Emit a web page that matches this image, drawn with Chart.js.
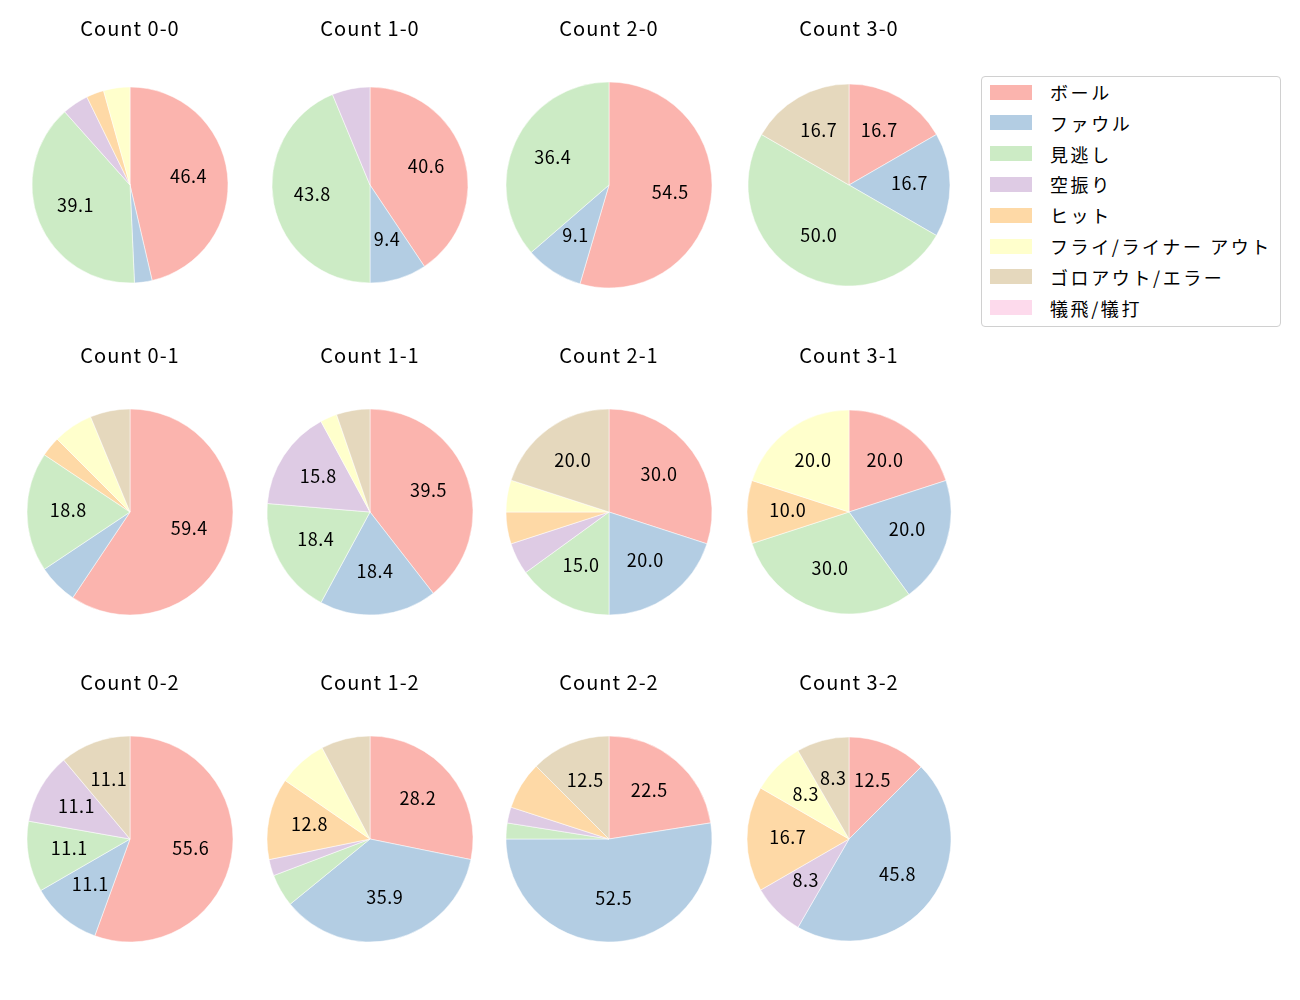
<!DOCTYPE html>
<html lang="ja">
<head>
  <meta charset="UTF-8">
  <title>Count別 投球結果</title>
  <script src="https://cdn.jsdelivr.net/npm/chart.js"></script>
  <style>
    body {
      margin: 0;
      background: #fff;
      width: 1300px;
      height: 1000px;
      position: relative;
      overflow: hidden;
      font-family: "Noto Sans CJK JP", "Noto Sans", sans-serif;
    }
    .pie {
      position: absolute;
      width: 240px;
      height: 310px;
    }
    #legend {
      position: absolute;
      left: 981px;
      top: 76px;
      width: 300px;
      height: 251px;
      border: 1px solid #d0d0d0;
      border-radius: 4px;
      box-sizing: border-box;
    }
    .row {
      position: absolute;
      left: 8px;
      height: 20px;
      display: flex;
      align-items: center;
      font-size: 18px;
      letter-spacing: 2.6px;
      color: #000;
      white-space: nowrap;
    }
    .sw {
      width: 42px;
      height: 15px;
      margin-right: 18px;
    }
  </style>
</head>
<body>
  <div id="legend"></div>
  <script>
    // 凡例の項目
    const categories = ['ボール', 'ファウル', '見逃し', '空振り', 'ヒット', 'フライ/ライナー アウト', 'ゴロアウト/エラー', '犠飛/犠打'];
    const colors = ['#fbb4ae', '#b3cde3', '#ccebc5', '#decbe4', '#fed9a6', '#ffffcc', '#e5d8bd', '#fddaec'];

    // カウントごとの投球数（カテゴリ順）
    const counts = ['0-0', '1-0', '2-0', '3-0', '0-1', '1-1', '2-1', '3-1', '0-2', '1-2', '2-2', '3-2'];
    const c00 = [32, 2, 27, 3, 2, 3, 0, 0];
    const c10 = [13, 3, 14, 2, 0, 0, 0, 0];
    const c20 = [6, 1, 4, 0, 0, 0, 0, 0];
    const c30 = [1, 1, 3, 0, 0, 0, 1, 0];
    const c01 = [19, 2, 6, 0, 1, 2, 2, 0];
    const c11 = [15, 7, 7, 6, 0, 1, 2, 0];
    const c21 = [6, 4, 3, 1, 1, 1, 4, 0];
    const c31 = [2, 2, 3, 0, 1, 2, 0, 0];
    const c02 = [5, 1, 1, 1, 0, 0, 1, 0];
    const c12 = [11, 14, 2, 1, 5, 3, 3, 0];
    const c22 = [9, 21, 1, 1, 3, 0, 5, 0];
    const c32 = [3, 11, 0, 2, 4, 2, 2, 0];
    const series = [c00, c10, c20, c30, c01, c11, c21, c31, c02, c12, c22, c32];

    // 円の半径（元画像に合わせる）
    const radii = [98, 98, 103, 101, 103, 103, 103, 102, 103, 103, 103, 102];

    const font = '"Noto Sans CJK JP", "Noto Sans", sans-serif';

    // 文字間を少し広げる
    const spacing = {
      id: 'spacing',
      beforeDraw(chart) {
        chart.ctx.letterSpacing = '1px';
      }
    };

    // 割合ラベル（8%以上のみ、半径の0.6の位置）
    const pctLabels = {
      id: 'pctLabels',
      afterDatasetDraw(chart) {
        const ctx = chart.ctx;
        const vals = chart.data.datasets[0].data;
        const total = vals.reduce((a, b) => a + b, 0);
        chart.getDatasetMeta(0).data.forEach((arc, i) => {
          const pct = vals[i] / total * 100;
          if (pct < 8) return;
          const p = arc.getProps(['x', 'y', 'startAngle', 'endAngle', 'outerRadius'], true);
          const mid = (p.startAngle + p.endAngle) / 2;
          const r = p.outerRadius * 0.6;
          ctx.save();
          ctx.letterSpacing = '0.5px';
          ctx.font = '18px ' + font;
          ctx.fillStyle = '#000';
          ctx.textAlign = 'center';
          ctx.textBaseline = 'middle';
          ctx.fillText(pct.toFixed(1), p.x + Math.cos(mid) * r, p.y + Math.sin(mid) * r - 2);
          ctx.restore();
        });
      }
    };

    const colX = [10, 250, 489, 729];
    const rowY = [0, 327, 654];

    counts.forEach((name, k) => {
      const cv = document.createElement('canvas');
      cv.className = 'pie';
      cv.style.left = colX[k % 4] + 'px';
      cv.style.top = rowY[Math.floor(k / 4)] + 'px';
      cv.width = 240;
      cv.height = 310;
      document.body.appendChild(cv);

      new Chart(cv, {
        type: 'pie',
        data: {
          labels: categories,
          datasets: [{
            data: series[k],
            backgroundColor: colors,
            borderColor: '#fff',
            borderWidth: 0.5
          }]
        },
        options: {
          responsive: false,
          animation: false,
          events: [],
          radius: radii[k],
          layout: { padding: 0 },
          plugins: {
            legend: { display: false },
            tooltip: { enabled: false },
            title: {
              display: true,
              text: 'Count ' + name,
              color: '#000',
              font: { family: font, size: 20, weight: 'normal', lineHeight: 1.2 },
              padding: { top: 16, bottom: 20 }
            }
          }
        },
        plugins: [spacing, pctLabels]
      });
    });

    // 凡例
    const legend = document.getElementById('legend');
    categories.forEach((c, i) => {
      const row = document.createElement('div');
      row.className = 'row';
      row.style.top = (5 + i * 30.8) + 'px';
      row.innerHTML = '<span class="sw" style="background:' + colors[i] + '"></span><span>' + c + '</span>';
      legend.appendChild(row);
    });
  </script>
</body>
</html>
